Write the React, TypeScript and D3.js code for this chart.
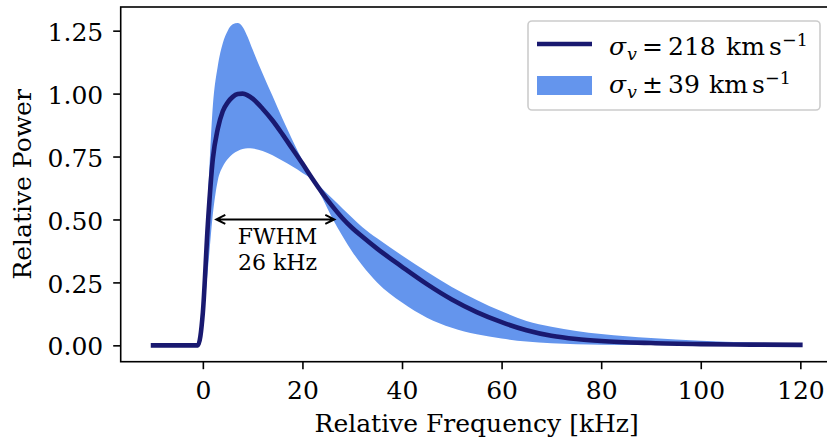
import { useEffect, useRef } from 'react';
import * as d3 from 'd3';

// relative frequency [kHz]
const freq = [
  -10, -1, 0, 1, 2, 3, 4, 5, 6, 7, 8, 9, 10, 12, 14, 16, 18, 20, 22, 24, 26,
  28, 30, 32, 35, 40, 45, 50, 55, 60, 65, 70, 75, 80, 90, 100, 110, 120,
];

// sigma_v = 218 km/s
const powerMid = [
  0, 0, 0.13, 0.48, 0.74, 0.86, 0.93, 0.965, 0.987, 0.998, 1.0, 0.993, 0.98,
  0.94, 0.893, 0.838, 0.78, 0.722, 0.662, 0.605, 0.553, 0.506, 0.466, 0.432,
  0.384, 0.312, 0.243, 0.182, 0.132, 0.092, 0.06, 0.038, 0.025, 0.017, 0.009,
  0.005, 0.003, 0.002,
];

// sigma_v - 39 (narrow, high peak)
const powerNarrow = [
  0, 0, 0.16, 0.58, 0.95, 1.11, 1.2, 1.25, 1.275, 1.28, 1.265, 1.225, 1.175,
  1.08, 0.99, 0.9, 0.815, 0.735, 0.66, 0.585, 0.505, 0.435, 0.372, 0.318, 0.25,
  0.17, 0.11, 0.07, 0.044, 0.027, 0.015, 0.008, 0.004, 0.002, 0.001, 0, 0, 0,
];

// sigma_v + 39 (wide, low peak)
const powerWide = [
  0, 0, 0.1, 0.3, 0.52, 0.655, 0.71, 0.74, 0.76, 0.772, 0.78, 0.783, 0.782,
  0.772, 0.755, 0.733, 0.71, 0.685, 0.66, 0.622, 0.583, 0.545, 0.507, 0.47,
  0.425, 0.357, 0.292, 0.232, 0.18, 0.135, 0.097, 0.074, 0.057, 0.045, 0.029,
  0.018, 0.011, 0.007,
];

const xTicks = [0, 20, 40, 60, 80, 100, 120];
const yTicks = [0, 0.25, 0.5, 0.75, 1.0, 1.25];

// FWHM arrow ends and label
const fwhmEnds = [2.7, 26.4];
const fwhmLevel = 0.5;
const fwhmLabel = ['FWHM', '26 kHz'];

const FONT = 'DejaVu Serif';
const FS = 25;

export default function App() {
  const svgRef = useRef(null);

  useEffect(() => {
    const svg = d3.select(svgRef.current);
    svg.selectAll('*').remove();

    const left = 120.7;
    const top = 7;
    const bottom = 361.7;
    const right = 832.7;

    const x = d3.scaleLinear().domain([-16.5, 126.5]).range([left, right]);
    const y = d3.scaleLinear().domain([-0.065, 1.344]).range([bottom, top]);

    const rows = freq.map((f, i) => ({
      f,
      mid: powerMid[i],
      lo: powerNarrow[i],
      hi: powerWide[i],
    }));

    // band
    const band = d3
      .area()
      .x((d) => x(d.f))
      .y0((d) => y(d.lo))
      .y1((d) => y(d.hi))
      .curve(d3.curveMonotoneX);

    svg.append('path').datum(rows).attr('d', band).attr('fill', '#6495ED');

    // central line
    const midLine = d3
      .line()
      .x((d) => x(d.f))
      .y((d) => y(d.mid))
      .curve(d3.curveMonotoneX);

    svg
      .append('path')
      .datum(rows)
      .attr('d', midLine)
      .attr('fill', 'none')
      .attr('stroke', '#191970')
      .attr('stroke-width', 4.6)
      .attr('stroke-linecap', 'square')
      .attr('stroke-linejoin', 'round');

    // FWHM arrow
    const ay = y(fwhmLevel);
    const x0 = x(fwhmEnds[0]);
    const x1 = x(fwhmEnds[1]);
    const hl = 9;
    const hw = 4.5;
    svg
      .append('path')
      .attr(
        'd',
        `M${x0},${ay}L${x1},${ay}` +
          `M${x0 + hl},${ay - hw}L${x0},${ay}L${x0 + hl},${ay + hw}` +
          `M${x1 - hl},${ay - hw}L${x1},${ay}L${x1 - hl},${ay + hw}`
      )
      .attr('fill', 'none')
      .attr('stroke', '#000')
      .attr('stroke-width', 2);

    svg
      .append('g')
      .selectAll('text')
      .data(fwhmLabel)
      .join('text')
      .attr('x', x(15))
      .attr('y', (d, i) => 244 + i * 25.5)
      .attr('text-anchor', 'middle')
      .attr('font-family', FONT)
      .attr('font-size', 22)
      .text((d) => d);

    // axes
    const xAxis = d3
      .axisBottom(x)
      .tickValues(xTicks)
      .tickSize(7.5)
      .tickPadding(7)
      .tickSizeOuter(0);
    const yAxis = d3
      .axisLeft(y)
      .tickValues(yTicks)
      .tickFormat(d3.format('.2f'))
      .tickSize(7.5)
      .tickPadding(10)
      .tickSizeOuter(0);

    const gx = svg
      .append('g')
      .attr('transform', `translate(0,${bottom})`)
      .call(xAxis);
    const gy = svg
      .append('g')
      .attr('transform', `translate(${left},0)`)
      .call(yAxis);

    [gx, gy].forEach((g) => {
      g.select('.domain').remove();
      g.selectAll('line').attr('stroke', '#000').attr('stroke-width', 1.6);
      g.selectAll('text')
        .attr('font-family', FONT)
        .attr('font-size', FS)
        .attr('fill', '#000');
    });
    gx.selectAll('text').attr('y', 37.5).attr('dy', null);
    gy.selectAll('text').attr('dy', 9.6);

    // spines
    svg
      .append('rect')
      .attr('x', left)
      .attr('y', top)
      .attr('width', right - left)
      .attr('height', bottom - top)
      .attr('fill', 'none')
      .attr('stroke', '#000')
      .attr('stroke-width', 1.6);

    // axis labels
    svg
      .append('text')
      .attr('x', (left + right) / 2)
      .attr('y', 432)
      .attr('text-anchor', 'middle')
      .attr('font-family', FONT)
      .attr('font-size', FS)
      .text('Relative Frequency [kHz]');

    svg
      .append('text')
      .attr('transform', `translate(31,${(top + bottom) / 2}) rotate(-90)`)
      .attr('text-anchor', 'middle')
      .attr('font-family', FONT)
      .attr('font-size', FS)
      .text('Relative Power');

    // legend
    const lg = svg.append('g');
    lg.append('rect')
      .attr('x', 528)
      .attr('y', 21)
      .attr('width', 292)
      .attr('height', 89)
      .attr('rx', 4)
      .attr('fill', 'rgba(255,255,255,0.8)')
      .attr('stroke', '#cccccc')
      .attr('stroke-width', 1.6);
    lg.append('line')
      .attr('x1', 537)
      .attr('x2', 592)
      .attr('y1', 44)
      .attr('y2', 44)
      .attr('stroke', '#191970')
      .attr('stroke-width', 4.6);
    lg.append('rect')
      .attr('x', 537)
      .attr('y', 76)
      .attr('width', 55)
      .attr('height', 19)
      .attr('fill', '#6495ED');

    const entries = [
      { y: 55, op: '=', num: '218', opX: 642, numX: 668, kmX: 726, sX: 769, supX: 782 },
      { y: 93, op: '\u00b1', num: '39', opX: 642, numX: 668, kmX: 709, sX: 752, supX: 765 },
    ];
    entries.forEach((e) => {
      const t = lg
        .append('text')
        .attr('y', e.y)
        .attr('font-family', FONT)
        .attr('font-size', FS);
      t.append('tspan').attr('x', 609).attr('font-style', 'italic').text('\u03c3');
      t.append('tspan')
        .attr('x', 627)
        .attr('font-style', 'italic')
        .attr('font-size', 17.5)
        .attr('dy', 5)
        .text('v');
      t.append('tspan').attr('x', e.opX).attr('dy', -5).text(e.op);
      t.append('tspan').attr('x', e.numX).text(e.num);
      t.append('tspan').attr('x', e.kmX).text('km');
      t.append('tspan').attr('x', e.sX).text('s');
      t.append('tspan')
        .attr('x', e.supX)
        .attr('dy', -9)
        .attr('font-size', 17.5)
        .text('\u22121');
    });
  }, []);

  return (
    <div style={{ position: 'absolute', left: 0, top: 0 }}>
      <svg ref={svgRef} width={827} height={438} style={{ display: 'block' }} />
    </div>
  );
}
